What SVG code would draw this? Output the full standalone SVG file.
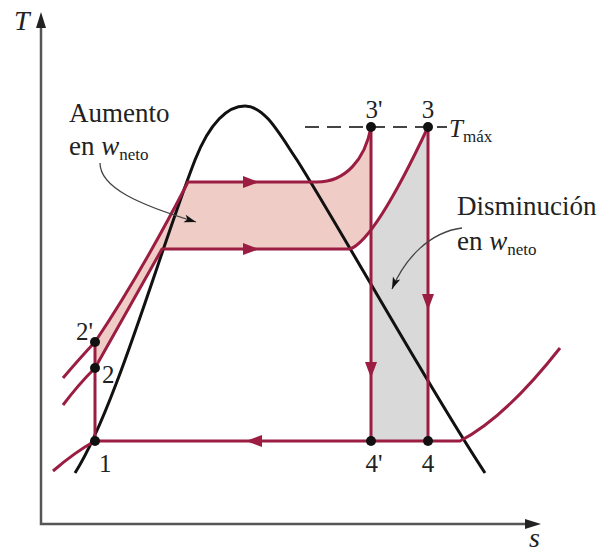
<svg xmlns="http://www.w3.org/2000/svg" width="603" height="555" viewBox="0 0 603 555">
<defs>
<style>
.ax{stroke:#555;stroke-width:2.5;fill:none}
.axh{fill:#222}
.dome{stroke:#111;stroke-width:3;fill:none}
.pr{stroke:#9b1d42;stroke-width:3;fill:none;stroke-linejoin:round}
.fa{fill:#9b1d42}
.dot{fill:#111}
.lbl{font-family:"Liberation Serif","Times New Roman",serif;font-size:25px;fill:#222}
.note{font-family:"Liberation Serif","Times New Roman",serif;font-size:27px;fill:#222}
.it{font-style:italic}
.sub{font-size:17px;font-style:normal}
.ann{stroke:#444;stroke-width:1.3;fill:none}
.dash{stroke:#444;stroke-width:2;stroke-dasharray:14 8;fill:none}
</style>
<path id="fa" d="M8,0 L-8,-6 L-8,6 Z"/>
<marker id="ah" markerUnits="userSpaceOnUse" markerWidth="14" markerHeight="10" refX="12" refY="4" orient="auto">
<path d="M0,0 L12,4 L0,8 L3,4 Z" fill="#111"/>
</marker>
</defs>
<rect width="603" height="555" fill="#fff"/>

<g id="areas">
<path d="M95,342 Q140,275 188,182 L317,182 C345,182 365,160 371,127 L371,229.8 Q358.8,245.8 350,249 L162,249 L95,368 Z" fill="#efcdc6"/>
<path d="M371,229.8 Q393.6,200.3 428,127 L428,441 L371,441 Z" fill="#d9d9d9"/>
</g>

<g id="axes">
<path class="ax" d="M41,26 L41,524 L528,524"/>
<polygon class="axh" points="41,12 36,28 46,28"/>
<polygon class="axh" points="541,524 525,519 525,529"/>
<text class="lbl it" x="14" y="30" style="font-size:28px">T</text>
<text class="lbl it" x="529" y="547" style="font-size:28px">s</text>
</g>

<g id="dome">
<path class="dome" d="M75,473 C115,410 160,250 195,160 C210,122 228,106 245,106 C265,106 280,135 297,160 C340,228 430,390 485,473"/>
</g>

<g id="connectors">
<path class="pr" d="M63,378 Q80,358 95,342 Q140,275 188,182 L317,182 C345,182 365,160 371,127"/>
<path class="pr" d="M63,405 Q78,385 95,368 L162,249 L350,249 Q375,240 428,127"/>
<path class="pr" d="M53,471 Q75,452 95,441 L460,441 Q505,418 560,348"/>
<path class="pr" d="M95,441 L95,342"/>
<path class="pr" d="M371,127 L371,441"/>
<path class="pr" d="M428,127 L428,441"/>
<use href="#fa" class="fa" transform="translate(251,182)"/>
<use href="#fa" class="fa" transform="translate(251,249)"/>
<use href="#fa" class="fa" transform="translate(254,441) rotate(180)"/>
<use href="#fa" class="fa" transform="translate(371,370) rotate(90)"/>
<use href="#fa" class="fa" transform="translate(428,302) rotate(90)"/>
<path class="dash" d="M305,127 L447,127"/>
<path class="ann" d="M100,163 C100,188 140,205 196,222" marker-end="url(#ah)"/>
<path class="ann" d="M462,228 C430,232 405,258 392,289" marker-end="url(#ah)"/>
</g>

<g id="state-1"><circle class="dot" cx="95" cy="441" r="5"/><text class="lbl" x="99" y="472">1</text></g>
<g id="state-2"><circle class="dot" cx="95" cy="368" r="5"/><text class="lbl" x="102" y="383">2</text></g>
<g id="state-2p"><circle class="dot" cx="95" cy="342" r="5"/><text class="lbl" x="93" y="340" text-anchor="end">2'</text></g>
<g id="state-3p"><circle class="dot" cx="371" cy="127" r="5"/><text class="lbl" x="374" y="118" text-anchor="middle">3'</text></g>
<g id="state-3"><circle class="dot" cx="428" cy="127" r="5"/><text class="lbl" x="428" y="118" text-anchor="middle">3</text></g>
<g id="state-4p"><circle class="dot" cx="371" cy="441" r="5"/><text class="lbl" x="374" y="472" text-anchor="middle">4'</text></g>
<g id="state-4"><circle class="dot" cx="428" cy="441" r="5"/><text class="lbl" x="428" y="472" text-anchor="middle">4</text></g>

<g id="tmax"><text class="lbl it" x="449" y="137">T<tspan class="sub" dy="5">máx</tspan></text></g>

<g id="note-aumento">
<text class="note" x="69" y="122">Aumento</text>
<text class="note" x="69" y="155">en <tspan class="it">w</tspan><tspan class="sub" dy="5">neto</tspan></text>
</g>
<g id="note-disminucion">
<text class="note" x="457" y="215">Disminución</text>
<text class="note" x="457" y="250">en <tspan class="it">w</tspan><tspan class="sub" dy="5">neto</tspan></text>
</g>
</svg>
